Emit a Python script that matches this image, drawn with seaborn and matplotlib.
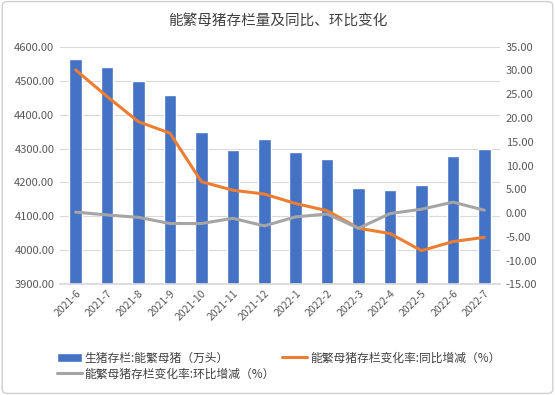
import seaborn as sns
import pandas as pd
import numpy as np
import matplotlib.pyplot as plt
from matplotlib.patches import FancyBboxPatch

months = ['2021-6', '2021-7', '2021-8', '2021-9', '2021-10', '2021-11', '2021-12',
          '2022-1', '2022-2', '2022-3', '2022-4', '2022-5', '2022-6', '2022-7']
stock = [4563, 4539, 4499, 4458, 4349, 4296, 4328, 4290, 4269, 4184, 4178, 4193, 4278, 4299]
yoy = [30.1, 24.5, 19.2, 16.8, 6.6, 4.8, 4.0, 2.0, 0.5, -3.2, -4.3, -7.9, -6.0, -5.1]
mom = [0.2, -0.4, -0.9, -2.2, -2.2, -1.1, -2.7, -0.8, -0.2, -3.2, -0.1, 0.8, 2.3, 0.6]

name_bar = '生猪存栏:能繁母猪（万头）'
name_yoy = '能繁母猪存栏变化率:同比增减（%）'
name_mom = '能繁母猪存栏变化率:环比增减（%）'

df = pd.DataFrame({'month': months, 'stock': stock, 'yoy': yoy, 'mom': mom})
df['pos'] = np.arange(len(months))

sns.set_theme(style='white')
plt.rcParams['font.family'] = ['Noto Sans CJK SC', 'DejaVu Sans']

fig = plt.figure(figsize=(5.55, 3.95), dpi=100)
ax = fig.add_axes([0.108, 0.28, 0.793, 0.602])

# bars on left axis
sns.barplot(data=df, x='month', y='stock', color='#4472C4', width=0.4,
            saturation=1, ax=ax, label=name_bar)
ax.set_ylim(3900, 4600)
ax.set_yticks(np.arange(3900, 4601, 100))
ax.set_yticklabels([f'{v:.2f}' for v in np.arange(3900, 4601, 100)])
ax.yaxis.grid(True, color='#D9D9D9', linewidth=0.8)
ax.set_axisbelow(True)
ax.set_xlabel('')
ax.set_ylabel('')
ax.set_xlim(-0.5, len(months) - 0.5)
for s in ['top', 'right', 'left']:
    ax.spines[s].set_visible(False)
ax.spines['bottom'].set_color('#D9D9D9')
ax.tick_params(axis='y', labelsize=8, colors='#595959', length=0, pad=4)
ax.tick_params(axis='x', labelsize=7.5, colors='#595959', length=0, pad=3)
plt.setp(ax.get_xticklabels(), rotation=45, ha='right', rotation_mode='anchor')

# lines on right axis
ax2 = ax.twinx()
sns.lineplot(data=df, x='pos', y='yoy', color='#ED7D31', linewidth=2.2, ax=ax2, label=name_yoy)
sns.lineplot(data=df, x='pos', y='mom', color='#A5A5A5', linewidth=2.2, ax=ax2, label=name_mom)
ax2.set_ylim(-15, 35)
ax2.set_yticks(np.arange(-15, 36, 5))
ax2.set_yticklabels([f'{v:.2f}' for v in np.arange(-15, 36, 5)])
ax2.set_ylabel('')
ax2.set_xlabel('')
for s in ['top', 'right', 'left', 'bottom']:
    ax2.spines[s].set_visible(False)
ax2.tick_params(axis='y', labelsize=8, colors='#595959', length=0, pad=4)
ax2.legend_.remove()

h1, l1 = ax.get_legend_handles_labels()
h2, l2 = ax2.get_legend_handles_labels()
if ax.get_legend():
    ax.get_legend().remove()
handles = [h1[0], h2[1], h2[0]]
labels = [name_bar, name_mom, name_yoy]
fig.legend(handles, labels, ncol=2, loc='upper left', bbox_to_anchor=(0.092, 0.125),
           frameon=False, fontsize=8.5, labelcolor='#404040', handlelength=2.1,
           handletextpad=0.25, columnspacing=0.6, labelspacing=0.25, borderpad=0)

fig.suptitle('能繁母猪存栏量及同比、环比变化', x=0.5, y=0.965, fontsize=10.5, color='#404040')

border = FancyBboxPatch((0.004, 0.004), 0.992, 0.992, boxstyle='round,pad=0,rounding_size=0.01',
                        transform=fig.transFigure, fill=False, edgecolor='#D0D0D0', linewidth=1)
fig.patches.append(border)

fig.savefig('out.png', dpi=100)
